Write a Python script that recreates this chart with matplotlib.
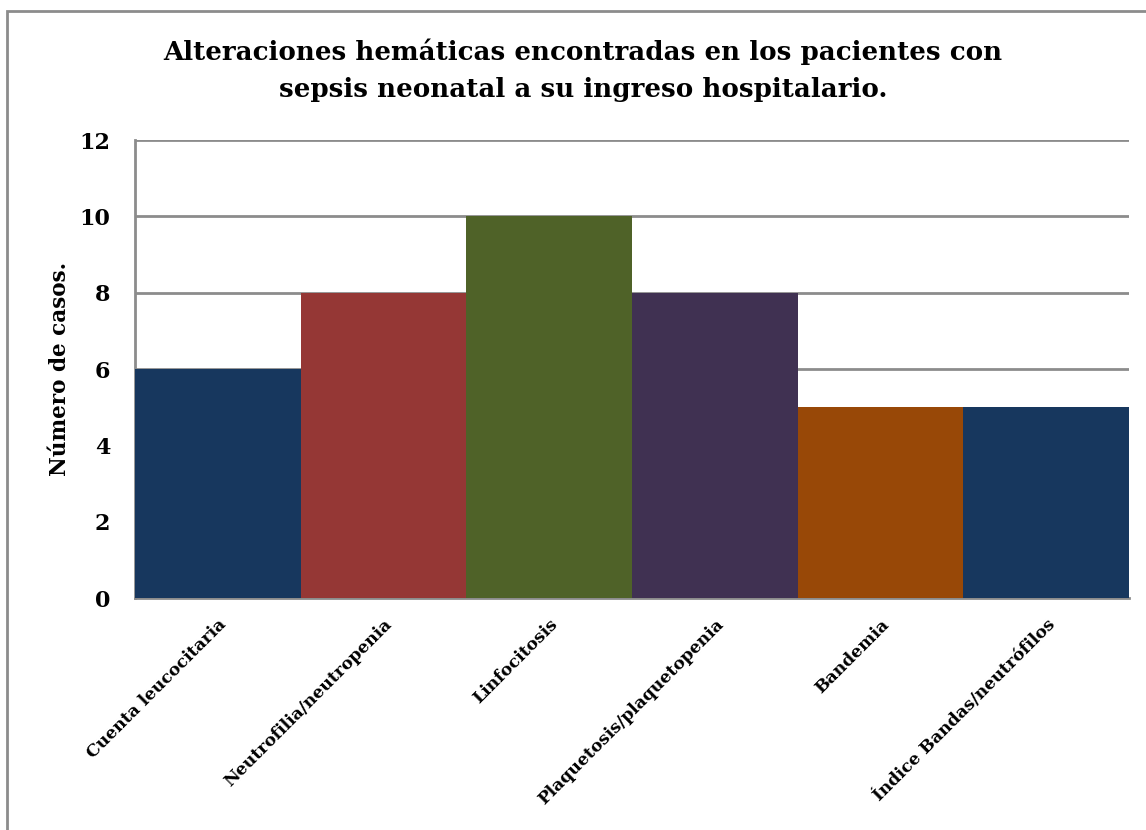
import matplotlib
matplotlib.use("Agg")
import matplotlib.pyplot as plt
from matplotlib.patches import Rectangle

# data
categorias = ["Cuenta leucocitaria", "Neutrofilia/neutropenia", "Linfocitosis",
              "Plaquetosis/plaquetopenia", "Bandemia", "Índice Bandas/neutrófilos"]
casos = [6, 8, 10, 8, 5, 5]
colores = ["#17375E", "#953735", "#4F6228", "#403152", "#984807", "#17375E"]
yticks = [0, 2, 4, 6, 8, 10, 12]

plt.rcParams["font.family"] = ["DejaVu Serif"]
plt.rcParams["font.weight"] = "bold"

fig = plt.figure(figsize=(11.46, 8.30), dpi=100)
ax = fig.add_axes([135/1146, 1-598/830, (1129-135)/1146, (598-140)/830])

# outer frame of the chart
fig.patches.append(Rectangle((7/1146, -0.1), 1.2, 1-11/830+0.1, transform=fig.transFigure,
                             fill=False, edgecolor="#8c8c8c", linewidth=2))

x = range(len(casos))
ax.bar(x, casos, width=1.0, color=colores, zorder=3)
ax.set_xlim(-0.5, 5.5)
ax.set_ylim(0, 12)
ax.set_yticks(yticks)
ax.set_yticklabels([str(t) for t in yticks], fontsize=16, fontweight="bold")
ax.set_xticks(list(x))
ax.set_xticklabels(categorias, rotation=45, ha="right", rotation_mode="anchor",
                   fontsize=12.3, fontweight="bold")
ax.tick_params(axis="y", length=0, pad=18)
ax.tick_params(axis="x", length=0, pad=13)
ax.grid(axis="y", color="#8c8c8c", linewidth=2, zorder=0)
for s in ["top", "right"]:
    ax.spines[s].set_visible(False)
for s in ["left", "bottom"]:
    ax.spines[s].set_color("#8c8c8c")
    ax.spines[s].set_linewidth(2)
ax.set_ylabel("Número de casos.", fontsize=15.5, fontweight="bold", labelpad=6)

fig.text(583/1146, 1-52/830, "Alteraciones hemáticas encontradas en los pacientes con",
         ha="center", va="center", fontsize=18.8, fontweight="bold")
fig.text(583/1146, 1-90/830, "sepsis neonatal a su ingreso hospitalario.",
         ha="center", va="center", fontsize=18.8, fontweight="bold")

fig.savefig("out.png", dpi=100)
